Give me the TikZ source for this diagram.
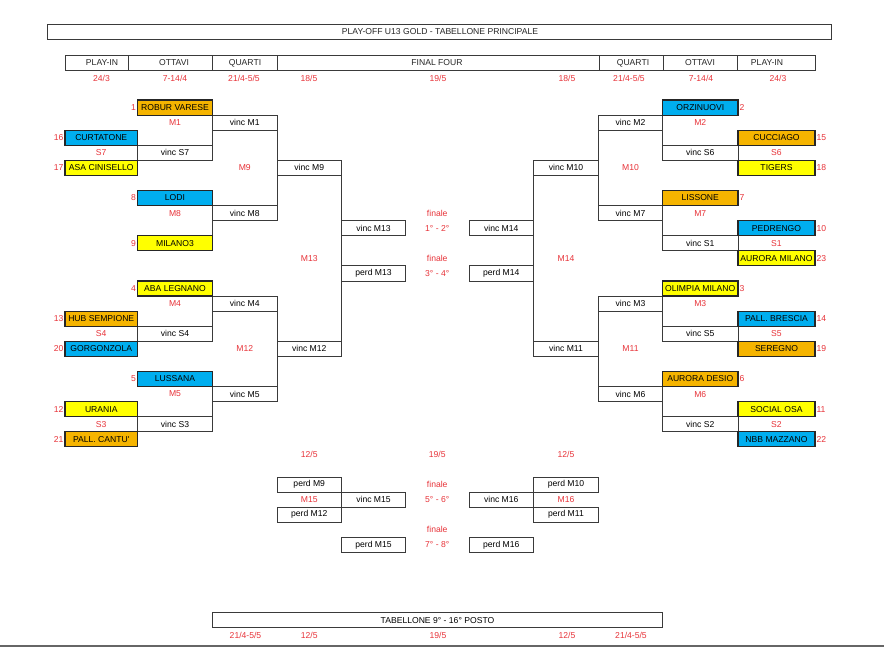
\documentclass[tikz,border=0pt]{standalone}
\usepackage{fontspec}
\setmainfont{Liberation Sans}
\definecolor{orng}{HTML}{F5B400}
\definecolor{blu}{HTML}{00AEEF}
\definecolor{yel}{HTML}{FFFF00}
\definecolor{redtx}{HTML}{E8343A}
\definecolor{ln}{HTML}{3A3A3A}
% #1 style, #2 name, #3 x1, #4 x2, #5 row, #6 text
\newcommand\BX[6]{%
  \pgfmathsetmacro\bxw{#4-#3}%
  \pgfmathsetmacro\bxx{(#3+#4)/2}%
  \pgfmathsetmacro\bxy{100+15.08*(#5+0.5)}%
  \node[#1, minimum width=\bxw pt, minimum height=15.08pt] (#2) at (\bxx,\bxy) {#6};}
% #1 style, #2 name, #3 x center, #4 row, #5 text
\newcommand\TX[5]{%
  \pgfmathsetmacro\bxy{100+15.08*(#4+0.5)}%
  \node[#1] (#2) at (#3,\bxy) {#5};}
\begin{document}
\begin{tikzpicture}[x=1pt,y=-1pt,
  every node/.style={font=\fontsize{8.6}{10}\selectfont, inner sep=0pt, outer sep=0pt},
  cellbox/.style={draw=ln, line width=0.8pt},
  team/.style={draw=black!85, line width=1.1pt},
  tor/.style={team, fill=orng},
  tbl/.style={team, fill=blu},
  tye/.style={team, fill=yel},
  lbl/.style={text=redtx},
  plain/.style={text=black!85},
  conn/.style={draw=ln, line width=0.8pt},
  seedL/.style={anchor=east, text=redtx, xshift=-1.5pt},
  seedR/.style={anchor=west, text=redtx, xshift=1.5pt}]
\useasboundingbox (0,0) rectangle (884,647);
\fill[white] (0,0) rectangle (884,647);

% title and headers
\node[cellbox, minimum width=784pt, minimum height=15pt] (title) at (439.5,32) {};
\node[plain] (titletxt) at (440,32) {PLAY-OFF U13 GOLD - TABELLONE PRINCIPALE};
\node[cellbox, minimum width=63.5pt, minimum height=15pt] (h1) at (96.75,63) {};
\node[cellbox, minimum width=84pt, minimum height=15pt] (h2) at (170.5,63) {};
\node[cellbox, minimum width=64.5pt, minimum height=15pt] (h3) at (244.75,63) {};
\node[cellbox, minimum width=322pt, minimum height=15pt] (h4) at (438,63) {};
\node[cellbox, minimum width=64pt, minimum height=15pt] (h5) at (631,63) {};
\node[cellbox, minimum width=74pt, minimum height=15pt] (h6) at (700,63) {};
\node[cellbox, minimum width=78.5pt, minimum height=15pt] (h7) at (776.25,63) {};
\node[plain] (h1t) at (102,63) {PLAY-IN};
\node[plain] (h2t) at (174,63) {OTTAVI};
\node[plain] (h3t) at (245,63) {QUARTI};
\node[plain] (h4t) at (437,63) {FINAL FOUR};
\node[plain] (h5t) at (633,63) {QUARTI};
\node[plain] (h6t) at (700,63) {OTTAVI};
\node[plain] (h7t) at (767,63) {PLAY-IN};
\node[lbl] (d1) at (101.5,78) {24/3};
\node[lbl] (d2) at (175,78) {7-14/4};
\node[lbl] (d3) at (244,78) {21/4-5/5};
\node[lbl] (d4) at (309,78) {18/5};
\node[lbl] (d5) at (438,78) {19/5};
\node[lbl] (d6) at (567,78) {18/5};
\node[lbl] (d7) at (629,78) {21/4-5/5};
\node[lbl] (d8) at (701,78) {7-14/4};
\node[lbl] (d9) at (778,78) {24/3};

% ---------- cells (winner boxes) ----------
% left
\BX{cellbox}{vincM1}{212.5}{277}{1}{vinc M1}
\BX{cellbox}{vincS7}{137.5}{212.5}{3}{vinc S7}
\BX{cellbox}{vincM9}{277}{341.5}{4}{vinc M9}
\BX{cellbox}{vincM8}{212.5}{277}{7}{vinc M8}
\BX{cellbox}{vincM4}{212.5}{277}{13}{vinc M4}
\BX{cellbox}{vincS4}{137.5}{212.5}{15}{vinc S4}
\BX{cellbox}{vincM12}{277}{341.5}{16}{vinc M12}
\BX{cellbox}{vincM5}{212.5}{277}{19}{vinc M5}
\BX{cellbox}{vincS3}{137.5}{212.5}{21}{vinc S3}
% centre
\BX{cellbox}{vincM13}{341.5}{405.5}{8}{vinc M13}
\BX{cellbox}{perdM13}{341.5}{405.5}{11}{perd M13}
\BX{cellbox}{vincM14}{469}{533.5}{8}{vinc M14}
\BX{cellbox}{perdM14}{469}{533.5}{11}{perd M14}
% right
\BX{cellbox}{vincM2}{598.5}{662.5}{1}{vinc M2}
\BX{cellbox}{vincS6}{662.5}{738}{3}{vinc S6}
\BX{cellbox}{vincM10}{533.5}{598.5}{4}{vinc M10}
\BX{cellbox}{vincM7}{598.5}{662.5}{7}{vinc M7}
\BX{cellbox}{vincS1}{662.5}{738}{9}{vinc S1}
\BX{cellbox}{vincM3}{598.5}{662.5}{13}{vinc M3}
\BX{cellbox}{vincS5}{662.5}{738}{15}{vinc S5}
\BX{cellbox}{vincM11}{533.5}{598.5}{16}{vinc M11}
\BX{cellbox}{vincM6}{598.5}{662.5}{19}{vinc M6}
\BX{cellbox}{vincS2}{662.5}{738}{21}{vinc S2}

% ---------- connectors ----------
\draw[conn] (vincM1.north west) -- (vincS7.south east);
\draw[conn] (vincM1.north east) -- (vincM8.south east);
\draw[conn] (vincM8.north west) -- ++(0,30.16) coordinate (milTop);
\draw[conn] (vincM9.north east) -- (vincM12.north east);
\draw[conn] (vincM4.north west) -- (vincS4.south east);
\draw[conn] (vincM4.north east) -- (vincM5.south east);
\draw[conn] (vincM5.north west) -- (vincS3.south east);
\draw[conn] (vincM10.north west) -- (vincM11.north west);
\draw[conn] (vincM2.north east) -- (vincS6.south west);
\draw[conn] (vincM2.north west) -- (vincM7.south west);
\draw[conn] (vincM7.north east) -- (vincS1.south west);
\draw[conn] (vincM3.north east) -- (vincS5.south west);
\draw[conn] (vincM3.north west) -- (vincM6.south west);
\draw[conn] (vincM6.north east) -- (vincS2.south west);

% ---------- teams ----------
\BX{tor}{robur}{137.5}{212.5}{0}{ROBUR VARESE}
\BX{tbl}{curtatone}{65}{137.5}{2}{CURTATONE}
\BX{tye}{asa}{65}{137.5}{4}{ASA CINISELLO}
\BX{tbl}{lodi}{137.5}{212.5}{6}{LODI}
\BX{tye}{milano3}{137.5}{212.5}{9}{MILANO3}
\BX{tye}{aba}{137.5}{212.5}{12}{ABA LEGNANO}
\BX{tor}{hub}{65}{137.5}{14}{HUB SEMPIONE}
\BX{tbl}{gorgonzola}{65}{137.5}{16}{GORGONZOLA}
\BX{tbl}{lussana}{137.5}{212.5}{18}{LUSSANA}
\BX{tye}{urania}{65}{137.5}{20}{URANIA}
\BX{tor}{cantu}{65}{137.5}{22}{PALL. CANTU\textquotesingle}

\BX{tbl}{orzinuovi}{662.5}{738}{0}{ORZINUOVI}
\BX{tor}{cucciago}{738}{815}{2}{CUCCIAGO}
\BX{tye}{tigers}{738}{815}{4}{TIGERS}
\BX{tor}{lissone}{662.5}{738}{6}{LISSONE}
\BX{tbl}{pedrengo}{738}{815}{8}{PEDRENGO}
\BX{tye}{auroramilano}{738}{815}{10}{AURORA MILANO}
\BX{tye}{olimpia}{662.5}{738}{12}{OLIMPIA MILANO}
\BX{tbl}{brescia}{738}{815}{14}{PALL. BRESCIA}
\BX{tor}{seregno}{738}{815}{16}{SEREGNO}
\BX{tor}{auroradesio}{662.5}{738}{18}{AURORA DESIO}
\BX{tye}{socialosa}{738}{815}{20}{SOCIAL OSA}
\BX{tbl}{nbb}{738}{815}{22}{NBB MAZZANO}

% seeds
\node[seedL] (sd1) at (robur.west) {1};
\node[seedL] (sd16) at (curtatone.west) {16};
\node[seedL] (sd17) at (asa.west) {17};
\node[seedL] (sd8) at (lodi.west) {8};
\node[seedL] (sd9) at (milano3.west) {9};
\node[seedL] (sd4) at (aba.west) {4};
\node[seedL] (sd13) at (hub.west) {13};
\node[seedL] (sd20) at (gorgonzola.west) {20};
\node[seedL] (sd5) at (lussana.west) {5};
\node[seedL] (sd12) at (urania.west) {12};
\node[seedL] (sd21) at (cantu.west) {21};
\node[seedR] (sd2) at (orzinuovi.east) {2};
\node[seedR] (sd15) at (cucciago.east) {15};
\node[seedR] (sd18) at (tigers.east) {18};
\node[seedR] (sd7) at (lissone.east) {7};
\node[seedR] (sd10) at (pedrengo.east) {10};
\node[seedR] (sd23) at (auroramilano.east) {23};
\node[seedR] (sd3) at (olimpia.east) {3};
\node[seedR] (sd14) at (brescia.east) {14};
\node[seedR] (sd19) at (seregno.east) {19};
\node[seedR] (sd6) at (auroradesio.east) {6};
\node[seedR] (sd11) at (socialosa.east) {11};
\node[seedR] (sd22) at (nbb.east) {22};

% match labels
\TX{lbl}{lM1}{175}{1}{M1}
\TX{lbl}{lS7}{101.25}{3}{S7}
\TX{lbl}{lM9}{244.75}{4}{M9}
\TX{lbl}{lM8}{175}{7}{M8}
\TX{lbl}{lM13}{309.25}{10}{M13}
\TX{lbl}{lM4}{175}{13}{M4}
\TX{lbl}{lS4}{101.25}{15}{S4}
\TX{lbl}{lM12}{244.75}{16}{M12}
\TX{lbl}{lM5}{175}{19}{M5}
\TX{lbl}{lS3}{101.25}{21}{S3}
\TX{lbl}{lfin1}{437.25}{7}{finale}
\TX{lbl}{lp12}{437.25}{8}{1° - 2°}
\TX{lbl}{lfin2}{437.25}{10}{finale}
\TX{lbl}{lp34}{437.25}{11}{3° - 4°}
\TX{lbl}{lM14}{566}{10}{M14}
\TX{lbl}{lM2}{700.25}{1}{M2}
\TX{lbl}{lS6}{776.5}{3}{S6}
\TX{lbl}{lM10}{630.5}{4}{M10}
\TX{lbl}{lM7}{700.25}{7}{M7}
\TX{lbl}{lS1}{776.5}{9}{S1}
\TX{lbl}{lM3}{700.25}{13}{M3}
\TX{lbl}{lS5}{776.5}{15}{S5}
\TX{lbl}{lM11}{630.5}{16}{M11}
\TX{lbl}{lM6}{700.25}{19}{M6}
\TX{lbl}{lS2}{776.5}{21}{S2}

% ---------- places 5-8 ----------
\TX{lbl}{dd1}{309.25}{23}{12/5}
\TX{lbl}{dd2}{437.25}{23}{19/5}
\TX{lbl}{dd3}{566}{23}{12/5}
\BX{cellbox}{perdM9}{277}{341.5}{25}{perd M9}
\BX{cellbox}{vincM15}{341.5}{405.5}{26}{vinc M15}
\BX{cellbox}{perdM12}{277}{341.5}{27}{perd M12}
\BX{cellbox}{perdM15}{341.5}{405.5}{29}{perd M15}
\BX{cellbox}{perdM10}{533.5}{598.5}{25}{perd M10}
\BX{cellbox}{vincM16}{469}{533.5}{26}{vinc M16}
\BX{cellbox}{perdM11}{533.5}{598.5}{27}{perd M11}
\BX{cellbox}{perdM16}{469}{533.5}{29}{perd M16}
\TX{lbl}{lM15}{309.25}{26}{M15}
\TX{lbl}{lM16}{566}{26}{M16}
\TX{lbl}{lfin3}{437.25}{25}{finale}
\TX{lbl}{lp56}{437.25}{26}{5° - 6°}
\TX{lbl}{lfin4}{437.25}{28}{finale}
\TX{lbl}{lp78}{437.25}{29}{7° - 8°}

% ---------- bottom ----------
\BX{cellbox}{tab2}{212.5}{662.5}{34}{TABELLONE 9° - 16° POSTO}
\TX{lbl}{e1}{245.5}{35}{21/4-5/5}
\TX{lbl}{e2}{309.25}{35}{12/5}
\TX{lbl}{e3}{438}{35}{19/5}
\TX{lbl}{e4}{567}{35}{12/5}
\TX{lbl}{e5}{631}{35}{21/4-5/5}
\coordinate (bl) at (0,646);
\coordinate (br) at (884,646);
\draw[draw=black!60, line width=1.6pt] (bl) -- (br);
\end{tikzpicture}
\end{document}
